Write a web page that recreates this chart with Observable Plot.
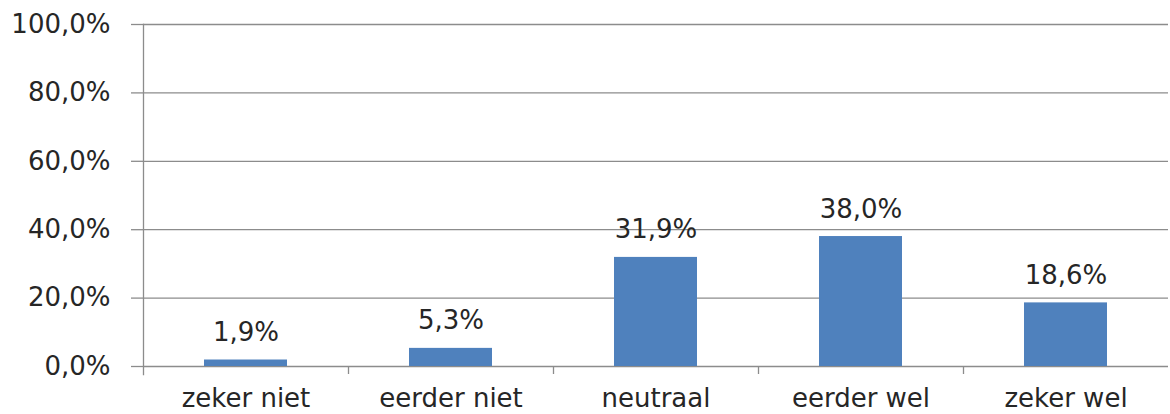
<!DOCTYPE html>
<html>
<head>
<meta charset="utf-8">
<script src="https://cdn.jsdelivr.net/npm/d3@7"></script>
<script src="https://cdn.jsdelivr.net/npm/@observablehq/plot@0.6"></script>
<style>
  html, body { margin: 0; padding: 0; background: #fff; }
  #chart svg { display: block; }
</style>
</head>
<body>
<div id="chart"></div>
<script>
const categories = ["zeker niet", "eerder niet", "neutraal", "eerder wel", "zeker wel"];
const values = [1.9, 5.3, 31.9, 38.0, 18.6];
const yTicks = [0, 20, 40, 60, 80, 100];

const data = categories.map((c, i) => ({ category: c, value: values[i] }));
const fmt = v => v.toFixed(1).replace(".", ",") + "%";

const W = 1170, H = 414;
const mL = 143, mR = 2;
const step = (W - mL - mR) / categories.length;

const chart = Plot.plot({
  width: W,
  height: H,
  marginLeft: mL,
  marginRight: mR,
  marginTop: 24,
  marginBottom: 48,
  style: { fontFamily: "DejaVu Sans", fontSize: "26px", color: "#262626", background: "#fff" },
  x: { domain: categories, paddingInner: 0.595, paddingOuter: 0.2975, label: null },
  y: { domain: [0, 100], label: null },
  marks: [
    Plot.gridY(yTicks, { stroke: "#8c8c8c", strokeOpacity: 1, strokeWidth: 1.3 }),
    Plot.axisY(yTicks, { tickSize: 12, tickPadding: 21, tickFormat: fmt, stroke: "#8c8c8c", strokeWidth: 1.3, fill: "#262626", fontSize: 26, label: null }),
    Plot.frame({ anchor: "left", stroke: "#8c8c8c", strokeWidth: 1.3, insetBottom: -8 }),
    Plot.ruleX(categories.slice(1), { x: d => d, dx: -step / 2, y1: 0, y2: 0, insetBottom: -8, stroke: "#8c8c8c", strokeWidth: 1.3 }),
    Plot.axisX({ tickSize: 0, tickPadding: 22, fill: "#262626", fontSize: 26, label: null }),
    Plot.barY(data, { x: "category", y: "value", fill: "#4F81BD" }),
    Plot.text(data, { x: "category", y: "value", text: d => fmt(d.value), dy: -19, lineAnchor: "bottom", fill: "#262626", fontSize: 26 })
  ]
});
document.getElementById("chart").appendChild(chart);
</script>
</body>
</html>
